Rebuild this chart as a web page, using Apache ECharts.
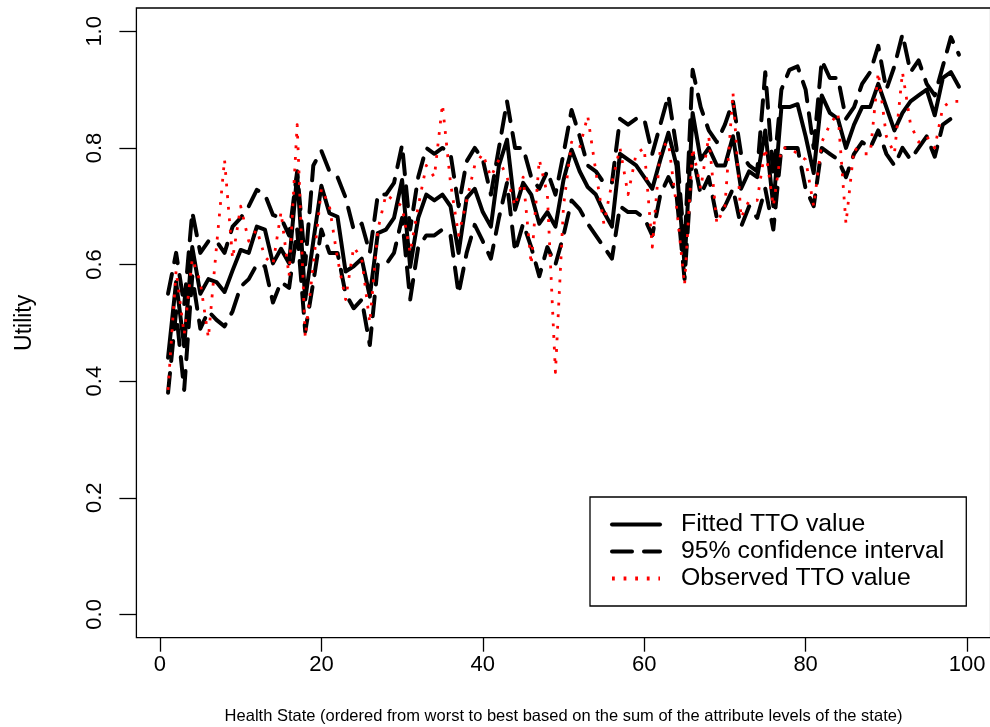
<!DOCTYPE html>
<html>
<head>
<meta charset="utf-8">
<script src="https://cdn.jsdelivr.net/npm/echarts@6/dist/echarts.min.js"></script>
<style>
html,body{margin:0;padding:0;background:#fff;}
#chart{width:990px;height:727px;}
</style>
</head>
<body>
<div id="chart"></div>
<script>
// Health states 1..99
const fitted = [0.44,0.57,0.46,0.63,0.55,0.575,0.57,0.553,0.59,0.625,
0.62,0.665,0.66,0.602,0.627,0.602,0.755,0.54,0.64,0.735,
0.688,0.682,0.588,0.597,0.61,0.545,0.654,0.66,0.68,0.745,
0.596,0.68,0.72,0.71,0.72,0.70,0.62,0.714,0.73,0.69,
0.665,0.77,0.814,0.694,0.74,0.72,0.67,0.69,0.665,0.745,
0.797,0.76,0.733,0.72,0.69,0.665,0.79,0.78,0.77,0.75,
0.73,0.78,0.826,0.77,0.60,0.86,0.78,0.80,0.77,0.77,
0.82,0.73,0.76,0.75,0.83,0.70,0.87,0.87,0.875,0.82,
0.757,0.89,0.86,0.85,0.80,0.84,0.87,0.87,0.91,0.87,
0.83,0.86,0.88,0.89,0.90,0.856,0.92,0.93,0.905];
const upperCI = [0.55,0.62,0.53,0.69,0.62,0.64,0.64,0.62,0.665,0.68,
0.70,0.728,0.72,0.685,0.68,0.65,0.76,0.60,0.77,0.795,
0.76,0.75,0.715,0.66,0.67,0.62,0.72,0.72,0.74,0.805,
0.66,0.75,0.80,0.79,0.80,0.79,0.70,0.777,0.80,0.78,
0.72,0.80,0.88,0.80,0.80,0.75,0.73,0.76,0.72,0.79,
0.865,0.82,0.77,0.76,0.74,0.74,0.85,0.84,0.85,0.85,
0.79,0.84,0.89,0.80,0.63,0.934,0.87,0.83,0.81,0.84,
0.88,0.79,0.77,0.76,0.93,0.75,0.90,0.934,0.94,0.90,
0.80,0.95,0.92,0.92,0.85,0.87,0.91,0.93,0.975,0.90,
0.94,0.995,0.93,0.95,0.91,0.89,0.94,0.99,0.96];
const lowerCI = [0.38,0.52,0.385,0.58,0.49,0.52,0.505,0.494,0.52,0.562,
0.575,0.60,0.597,0.535,0.57,0.56,0.66,0.485,0.57,0.66,
0.62,0.62,0.55,0.525,0.54,0.462,0.60,0.60,0.62,0.68,
0.54,0.63,0.65,0.65,0.66,0.65,0.55,0.62,0.668,0.64,
0.61,0.68,0.74,0.622,0.67,0.63,0.58,0.63,0.60,0.65,
0.71,0.695,0.67,0.65,0.63,0.61,0.70,0.69,0.69,0.68,
0.65,0.72,0.75,0.72,0.575,0.79,0.72,0.75,0.68,0.70,
0.73,0.665,0.70,0.68,0.73,0.66,0.80,0.80,0.80,0.73,
0.70,0.80,0.79,0.78,0.75,0.79,0.81,0.80,0.83,0.79,
0.77,0.80,0.78,0.80,0.82,0.785,0.84,0.85,0.85];
const observed = [0.385,0.59,0.48,0.61,0.57,0.474,0.63,0.78,0.61,0.70,
0.64,0.66,0.613,0.60,0.69,0.58,0.84,0.475,0.60,0.73,
0.70,0.61,0.54,0.63,0.61,0.50,0.66,0.72,0.71,0.70,
0.62,0.70,0.77,0.75,0.875,0.74,0.65,0.71,0.77,0.79,
0.75,0.78,0.75,0.70,0.75,0.60,0.78,0.72,0.415,0.70,
0.81,0.80,0.855,0.76,0.67,0.74,0.80,0.72,0.79,0.80,
0.63,0.80,0.81,0.70,0.565,0.80,0.73,0.82,0.67,0.70,
0.895,0.68,0.71,0.71,0.80,0.70,0.80,0.80,0.79,0.78,
0.70,0.81,0.84,0.86,0.67,0.80,0.79,0.79,0.93,0.82,
0.79,0.93,0.84,0.81,0.82,0.80,0.87,0.88,0.88];
const states = fitted.map((_, i) => i + 1);
const xTicks = [0, 20, 40, 60, 80, 100];
const yTicks = [0, 0.2, 0.4, 0.6, 0.8, 1.0];
const names = ['Fitted TTO value', '95% confidence interval', 'Observed TTO value'];
const xTitle = 'Health State (ordered from worst to best based on the sum of the attribute levels of the state)';
const yTitle = 'Utility';

const pair = arr => arr.map((v, i) => [states[i], v]);
const FONT = '"Liberation Sans", Arial, sans-serif';

const chart = echarts.init(document.getElementById('chart'), null, {renderer: 'canvas'});
const blackSolid = {color: '#000', width: 4, type: 'solid', cap: 'round', join: 'round'};
const blackDash = {color: '#000', width: 4, type: [20, 12], cap: 'round', join: 'round'};
const redDot = {color: '#ff0000', width: 2.8, type: [2.8, 8.8], cap: 'butt', join: 'round'};

chart.setOption({
  animation: false,
  backgroundColor: '#fff',
  textStyle: {fontFamily: FONT},
  grid: {left: 136.4, top: 8, width: 854.2, bottom: 89.3, show: true, borderColor: '#000', borderWidth: 1.3,
    backgroundColor: 'transparent', containLabel: false, outerBoundsMode: 'none'},
  xAxis: {
    type: 'value', min: -2.92, max: 102.92,
    axisLine: {show: false, onZero: false},
    splitLine: {show: false},
    axisTick: {show: true, customValues: xTicks, length: 14, lineStyle: {color: '#000', width: 1.3}},
    axisLabel: {customValues: xTicks, color: '#000', fontSize: 22, fontFamily: FONT, margin: 16},
    name: xTitle, nameLocation: 'middle', nameGap: 70,
    nameTextStyle: {color: '#000', fontSize: 16.5, fontFamily: FONT}
  },
  yAxis: {
    type: 'value', min: -0.04, max: 1.04,
    axisLine: {show: false, onZero: false},
    splitLine: {show: false},
    axisTick: {show: true, customValues: yTicks, length: 17, lineStyle: {color: '#000', width: 1.3}},
    axisLabel: {customValues: yTicks, color: '#000', fontSize: 22, fontFamily: FONT, margin: 30, rotate: 90,
      formatter: v => Number(v).toFixed(1)},
    name: yTitle, nameLocation: 'middle', nameGap: 100, nameRotate: 90,
    nameTextStyle: {color: '#000', fontSize: 23, fontFamily: FONT}
  },
  legend: {
    data: names,
    orient: 'vertical',
    left: 590, top: 497,
    backgroundColor: '#fff',
    borderColor: '#000', borderWidth: 1.3, borderRadius: 0,
    padding: [14, 22, 14, 20],
    itemWidth: 48, itemHeight: 2, itemGap: 0,
    itemStyle: {opacity: 0},
    lineStyle: {width: 4},
    textStyle: {color: '#000', fontSize: 24.8, fontFamily: FONT, lineHeight: 27, padding: [0, 0, 0, 16]},
    selectedMode: false
  },
  series: [
    {name: names[0], type: 'line', data: pair(fitted), symbol: 'none', lineStyle: blackSolid, itemStyle: {color: '#000'}, z: 2},
    {name: names[1], type: 'line', data: pair(upperCI), symbol: 'none', lineStyle: blackDash, itemStyle: {color: '#000'}, z: 3},
    {name: names[1], type: 'line', data: pair(lowerCI), symbol: 'none', lineStyle: blackDash, itemStyle: {color: '#000'}, z: 3},
    {name: names[2], type: 'line', data: pair(observed), symbol: 'none', lineStyle: redDot, itemStyle: {color: '#ff0000'}, z: 4}
  ]
});
</script>
</body>
</html>
